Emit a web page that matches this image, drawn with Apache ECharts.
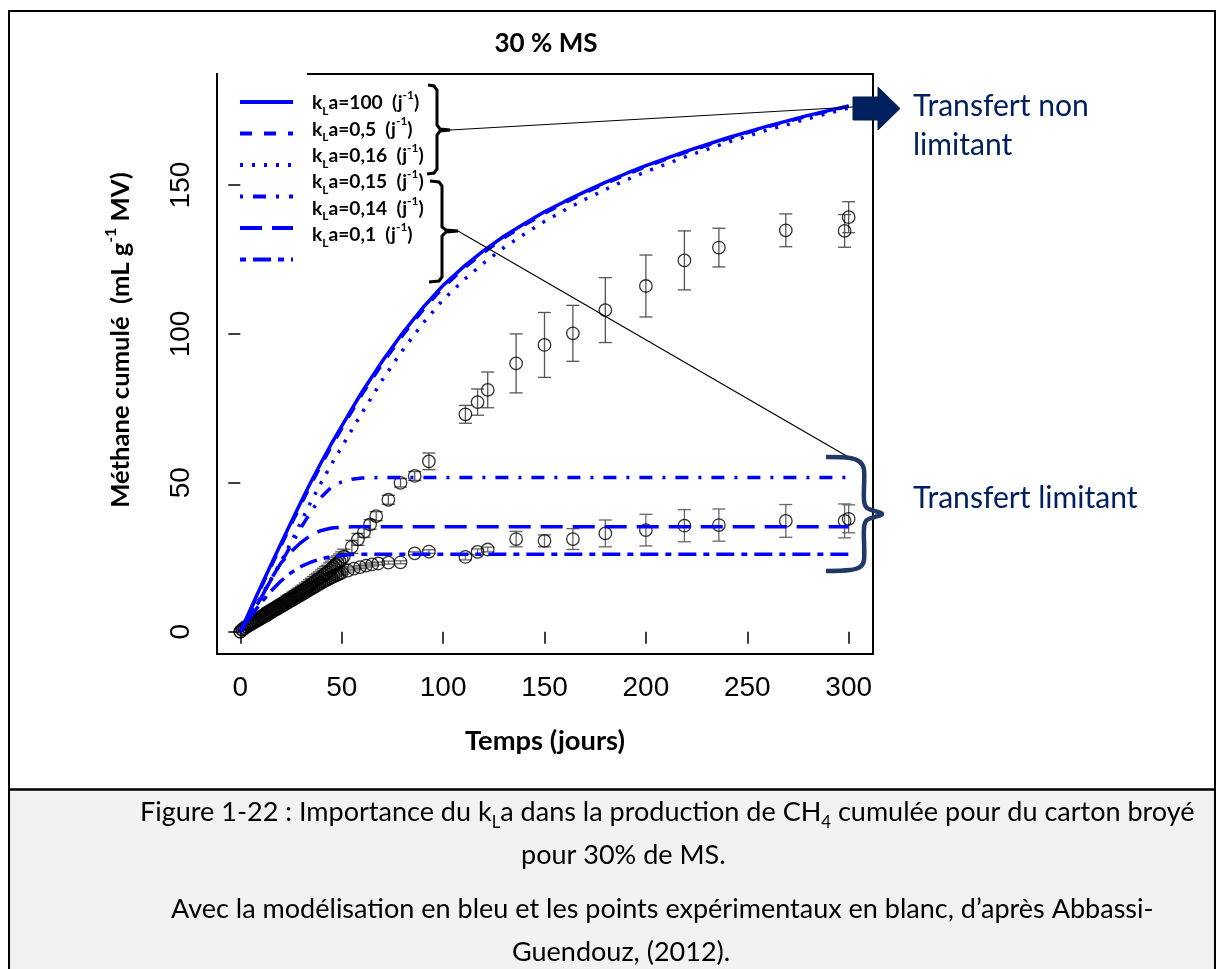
<!DOCTYPE html>
<html>
<head>
<meta charset="utf-8">
<script src="https://cdn.jsdelivr.net/npm/echarts@6/dist/echarts.min.js"></script>
<style>
html,body{margin:0;padding:0;background:#fff;}
#c{width:1223px;height:969px;}
</style>
</head>
<body>
<div id="c"></div>
<script>
// ---------------- DATA ----------------
const xTicks = [0, 50, 100, 150, 200, 250, 300];
const yTicks = [0, 50, 100, 150];

// model time axis (jours)
const T = [0,5,10,15,20,25,30,35,40,45,50,55,60,70,80,90,100,110,120,130,140,150,160,170,180,190,200,220,240,260,280,300];
// model curves (mL g-1 MV)
const kla100 = [0,7.5,15,22.3,29.5,36.7,43.7,50.5,57,63.2,69,74.8,80.5,90.8,100.3,108.8,116.3,122.5,128,132.8,137,141,144.5,147.8,150.9,153.8,156.5,161.4,165.8,169.8,173.4,176.6];
const kla05  = [0,7.2,14.5,21.7,28.8,35.9,42.9,49.7,56.2,62.4,68.2,74,79.7,90,99.5,108,115.6,121.9,127.4,132.3,136.5,140.5,144.1,147.4,150.5,153.4,156.2,161.1,165.5,169.6,173.2,176.5];
const kla016 = [0,5.5,11.5,17.5,23.5,30,37,43.8,50.2,56.3,62,67.8,73.5,84.5,94.5,103.5,111.5,118,123.8,129,133.5,137.8,141.6,145.2,148.5,151.6,154.5,159.6,164.3,168.5,172.3,175.9];
const kla015 = [0,5.5,11.3,17.2,23,29,35,40.5,45.2,48.6,50.3,51.2,51.6,51.8,51.8,51.8,51.8,51.8,51.8,51.8,51.8,51.8,51.8,51.8,51.8,51.8,51.8,51.8,51.8,51.8,51.8,51.8];
const kla014 = [0,5.5,11,17.5,23,26.8,30,32.5,34,34.8,35.1,35.2,35.2,35.2,35.2,35.2,35.2,35.2,35.2,35.2,35.2,35.2,35.2,35.2,35.2,35.2,35.2,35.2,35.2,35.2,35.2,35.2];
const kla01  = [0,5,9.5,13.5,17,19.8,21.9,23.4,24.5,25.2,25.6,25.9,26,26,26,26,26,26,26,26,26,26,26,26,26,26,26,26,26,26,26,26];
const modelLabels = ['100', '0,5', '0,16', '0,15', '0,14', '0,1'];

// experimental points, reactor A (upper)
const expA_t = [0,1,2,3,4,5,6,7,8,9,10,11,12,13,14,15,16,17,18,19,20,21,22,23,24,25,26,27,28,29,30,31,32,33,34,35,36,37,38,39,40,41,42,43,44,45,46,47,48,49,50,51,55,58,61,64,67,73,79,86,93,111,117,122,136,150,164,180,200,219,236,269,298,300];
const expA_y = [0,0.8,1.3,1.8,2.3,2.8,3.2,3.6,4.1,4.5,5.0,5.4,5.9,6.4,6.7,7.2,7.6,7.9,8.4,8.8,9.2,9.6,10.0,10.6,10.9,11.3,11.7,12.2,12.6,13.0,13.5,13.9,14.4,14.9,15.4,15.9,16.4,17.0,17.4,17.9,18.4,19.0,19.5,19.9,20.6,21.2,21.8,22.5,23.0,23.6,24.3,25.2,28.5,31.0,33.5,36.0,38.8,44.3,50.0,52.3,57.2,73.0,77.1,81.2,90.1,96.3,100.2,108.0,116.1,124.7,129.0,134.8,134.6,139.2];
const expA_e = [0,0.3,0.4,0.4,0.5,0.5,0.6,0.6,0.7,0.7,0.8,0.8,0.9,0.9,1.0,1.0,1.1,1.1,1.2,1.2,1.3,1.3,1.4,1.4,1.5,1.5,1.6,1.6,1.7,1.7,1.8,1.8,1.9,1.9,2.0,2.0,2.1,2.1,2.2,2.2,2.3,2.3,2.4,2.4,2.5,2.5,2.5,2.5,2.5,2.5,2.5,2.5,2.2,2.0,1.8,1.6,1.5,1.5,1.4,1.5,2.8,3.0,4.4,6.0,9.9,10.9,9.4,10.9,10.4,9.9,6.5,5.5,5.5,5.2];
// experimental points, reactor B (lower)
const expB_t = [0,1,2,3,4,5,6,7,8,9,10,11,12,13,14,15,16,17,18,19,20,21,22,23,24,25,26,27,28,29,30,31,32,33,34,35,36,37,38,39,40,41,42,43,44,45,46,47,48,49,50,53,56,59,62,65,68,73,79,86,93,111,117,122,136,150,164,180,200,219,236,269,298,300];
const expB_y = [0,0.6,1.1,1.6,2.0,2.4,2.8,3.2,3.6,4.0,4.4,4.8,5.2,5.5,6.0,6.4,6.8,7.3,7.6,8.0,8.4,8.8,9.2,9.7,10.0,10.4,10.8,11.2,11.6,12.1,12.4,12.8,13.2,13.6,14.0,14.5,14.8,15.2,15.6,16.1,16.4,16.8,17.2,17.5,17.9,18.2,18.6,18.9,19.2,19.5,19.8,20.5,21.2,21.7,22.2,22.6,22.9,23.2,23.3,26.3,26.9,25.1,26.8,27.6,31.1,30.5,31.1,33.0,34.1,35.6,35.8,37.2,37.2,37.9];
const expB_e = [0,0.2,0.2,0.3,0.3,0.3,0.3,0.3,0.4,0.4,0.4,0.4,0.4,0.4,0.4,0.4,0.4,0.4,0.4,0.4,0.4,0.4,0.4,0.4,0.4,0.4,0.4,0.4,0.4,0.4,0.4,0.4,0.4,0.4,0.4,0.4,0.4,0.4,0.4,0.4,0.4,0.4,0.4,0.4,0.4,0.4,0.4,0.4,0.4,0.4,0.5,0.5,0.5,0.5,0.5,0.5,0.5,0.5,0.5,0.5,0.6,1.0,1.0,0.8,2.6,2.0,3.5,4.5,5.3,5.4,5.4,5.5,5.7,4.7];

// ---------------- STYLES / LAYOUT ----------------
const BLUE = '#0000ff';
const NAVY = '#002060';
const DASHES = ['solid', [12,12], [3,9], [3,10,13,10], [22,10], [6,7,18,7]];
const TICKFONT = "'Liberation Sans',Arial,sans-serif";
const FONT = 'Lato';

const ctx = document.createElement('canvas').getContext('2d');
function measure(text, size, weight, family) {
  ctx.font = (weight || 'normal') + ' ' + size + 'px ' + family;
  return ctx.measureText(text).width;
}
function fitSize(text, weight, family, target) {
  return 100 * target / measure(text, 100, weight, family);
}

const titleSize = fitSize('30 % MS', 'bold', FONT, 103);
const titleW = measure('30 % MS', titleSize, 'bold', FONT);
const xNameSize = fitSize('Temps (jours)', 'bold', FONT, 160);
const yNameSize = fitSize('Méthane cumulé  (mL g-1 MV)', 'bold', FONT, 345);
const legSize = fitSize('kLa=100  (j-1)', 'bold', FONT, 118);
const annSize = fitSize('Transfert non', 'normal', FONT, 176);
const capSize = fitSize('Figure 1-22 : Importance du kLa dans la production de CH4 cumulée pour du carton broyé', 'normal', FONT, 1066);

function lineSeries(name, vals, dash) {
  return {
    type: 'line', name: name,
    data: T.map((t, i) => [t, vals[i]]),
    showSymbol: false, symbol: 'none',
    smooth: false,
    lineStyle: { color: BLUE, width: 3.5, type: dash, cap: 'butt', join: 'round' },
    z: 4, silent: true, animation: false
  };
}
function errRender(color) {
  return function (params, api) {
    const t = api.value(0), y = api.value(1), e = api.value(2);
    if (!(e > 0)) return null;
    const lo = api.coord([t, y - e]), hi = api.coord([t, y + e]);
    const hw = 6.5;
    const st = { stroke: color, lineWidth: 1.3 };
    return { type: 'group', children: [
      { type: 'line', shape: { x1: lo[0], y1: lo[1], x2: hi[0], y2: hi[1] }, style: st },
      { type: 'line', shape: { x1: lo[0] - hw, y1: lo[1], x2: lo[0] + hw, y2: lo[1] }, style: st },
      { type: 'line', shape: { x1: hi[0] - hw, y1: hi[1], x2: hi[0] + hw, y2: hi[1] }, style: st }
    ]};
  };
}
function scatterSeries(name, ts, ys) {
  return {
    type: 'scatter', name: name,
    data: ts.map((t, i) => [t, ys[i]]),
    symbol: 'circle', symbolSize: 12.5,
    itemStyle: { color: 'rgba(0,0,0,0)', borderColor: '#000', borderWidth: 1.3 },
    z: 3, silent: true, animation: false
  };
}

const modelVals = [kla100, kla05, kla016, kla015, kla014, kla01];
const series = [
  { type: 'custom', name: 'erreur A', data: expA_t.map((t, i) => [t, expA_y[i], expA_e[i]]), renderItem: errRender('#555'), z: 2, silent: true, animation: false },
  { type: 'custom', name: 'erreur B', data: expB_t.map((t, i) => [t, expB_y[i], expB_e[i]]), renderItem: errRender('#666'), z: 2, silent: true, animation: false },
  scatterSeries('Expérimental A', expA_t, expA_y),
  scatterSeries('Expérimental B', expB_t, expB_y)
];
modelVals.forEach((v, i) => series.push(lineSeries('kLa=' + modelLabels[i] + ' (j-1)', v, DASHES[i])));

// ---------------- GRAPHICS (frame, legend, annotations, caption) ----------------
const g = [];
g.push({ type: 'rect', shape: { x: 10, y: 790, width: 1204, height: 185 }, style: { fill: '#f2f2f2' }, z: 0 });
g.push({ type: 'rect', shape: { x: 9, y: 11, width: 1206, height: 980 }, style: { fill: null, stroke: '#000', lineWidth: 2 }, z: 100 });
g.push({ type: 'line', shape: { x1: 9, y1: 789.5, x2: 1215, y2: 789.5 }, style: { stroke: '#000', lineWidth: 2.5 }, z: 100 });
// legend background covering part of the box top
g.push({ type: 'rect', shape: { x: 218, y: 68, width: 89, height: 12 }, style: { fill: '#fff' }, z: 50 });

// legend samples + labels
const legRich = {
  s: { fontSize: legSize * 0.62, lineHeight: legSize * 0.75, fontWeight: 'bold', fontFamily: FONT, verticalAlign: 'bottom', fill: '#000' },
  p: { fontSize: legSize * 0.62, lineHeight: legSize * 0.75, fontWeight: 'bold', fontFamily: FONT, verticalAlign: 'top', fill: '#000' }
};
for (let i = 0; i < 6; i++) {
  const ly = 102 + i * 31.5;
  g.push({ type: 'line', shape: { x1: 240, y1: ly, x2: 293, y2: ly },
    style: { stroke: BLUE, lineWidth: 4, lineDash: DASHES[i] === 'solid' ? null : DASHES[i], lineCap: 'butt' }, z: 60 });
  g.push({ type: 'text', x: 312, y: 103 + i * 26.4, z: 60,
    style: { text: 'k{s|L}a=' + modelLabels[i] + '  (j{p|-1})', fontSize: legSize, lineHeight: legSize * 1.45, fontWeight: 'bold', fontFamily: FONT,
      fill: '#000', align: 'left', verticalAlign: 'middle', rich: legRich } });
}

// black braces and pointer lines
g.push({ type: 'polyline', z: 70, shape: { points: [[428,85],[434,86],[437,90],[437,125],[440,129],[450,130],[440,131],[437,135],[437,169],[434,173],[427,174]] },
  style: { stroke: '#000', lineWidth: 3, fill: null } });
g.push({ type: 'polyline', z: 70, shape: { points: [[430,181],[439,182],[442,186],[442,227],[446,230],[458,231],[446,232],[442,236],[442,277],[439,281],[429,282]] },
  style: { stroke: '#000', lineWidth: 3, fill: null } });
g.push({ type: 'line', z: 70, shape: { x1: 450, y1: 130, x2: 853, y2: 107 }, style: { stroke: '#000', lineWidth: 1.2 } });
g.push({ type: 'line', z: 70, shape: { x1: 458, y1: 231, x2: 850, y2: 458 }, style: { stroke: '#000', lineWidth: 1.2 } });

// navy brace
g.push({ type: 'polyline', z: 70, shape: { smooth: 0.3, points: [[826,457],[850,458],[860,462],[864,470],[864,500],[867,508],[882,514],[867,520],[864,528],[864,560],[860,567],[850,570],[826,571]] },
  style: { stroke: '#1f3864', lineWidth: 4.5, fill: null } });
// navy block arrow
g.push({ type: 'polygon', z: 70, shape: { points: [[853,97],[878,97],[878,87],[900,108.5],[878,130],[878,120],[853,120]] },
  style: { fill: NAVY, stroke: '#0a1a40', lineWidth: 1 } });

g.push({ type: 'text', x: 913, y: 106, z: 70, style: { text: 'Transfert non', fontSize: annSize, fontFamily: FONT, fill: NAVY, align: 'left', verticalAlign: 'middle' } });
g.push({ type: 'text', x: 913, y: 145, z: 70, style: { text: 'limitant', fontSize: annSize, fontFamily: FONT, fill: NAVY, align: 'left', verticalAlign: 'middle' } });
g.push({ type: 'text', x: 913, y: 498, z: 70, style: { text: 'Transfert limitant', fontSize: annSize, fontFamily: FONT, fill: NAVY, align: 'left', verticalAlign: 'middle' } });

// caption
const capRich = { s: { fontSize: capSize * 0.62, lineHeight: capSize * 0.75, fontFamily: FONT, verticalAlign: 'bottom', fill: '#000' } };
function capText(x, y, text) {
  return { type: 'text', x: x, y: y, z: 80,
    style: { text: text, fontSize: capSize, lineHeight: capSize * 1.4, fontFamily: FONT, fill: '#000', align: 'left', verticalAlign: 'middle', rich: capRich } };
}
g.push(capText(140, 812, 'Figure 1-22 : Importance du k{s|L}a dans la production de CH{s|4} cumulée pour du carton broyé'));
g.push(capText(521, 855, 'pour 30% de MS.'));
g.push(capText(171, 909, 'Avec la modélisation en bleu et les points expérimentaux en blanc, d’après Abbassi-'));
g.push(capText(512, 952, 'Guendouz, (2012).'));

// ---------------- CHART ----------------
const chart = echarts.init(document.getElementById('c'), null, { renderer: 'canvas' });
chart.setOption({
  backgroundColor: '#fff',
  animation: false,
  title: {
    text: '30 % MS',
    left: 541 - titleW / 2, top: 42 - titleSize * 0.62,
    textStyle: { fontFamily: FONT, fontWeight: 'bold', fontSize: titleSize, color: '#000' }
  },
  grid: {
    left: 217, top: 74, width: 656, height: 580,
    show: true, borderColor: '#000', borderWidth: 2, backgroundColor: 'transparent',
    containLabel: false, outerBoundsMode: 'none'
  },
  xAxis: {
    type: 'value', min: -11.5, max: 312,
    axisLine: { show: false },
    axisTick: { show: true, length: 12, customValues: xTicks, lineStyle: { color: '#000', width: 1.5 } },
    axisLabel: { customValues: xTicks, fontFamily: TICKFONT, fontSize: 28, color: '#000', margin: 20 },
    splitLine: { show: false },
    name: 'Temps (jours)', nameLocation: 'middle', nameGap: 74,
    nameTextStyle: { fontFamily: FONT, fontWeight: 'bold', fontSize: xNameSize, color: '#000' }
  },
  yAxis: {
    type: 'value', min: -7.5, max: 187.3,
    axisLine: { show: false },
    axisTick: { show: true, length: 12, customValues: yTicks, lineStyle: { color: '#000', width: 1.5 } },
    axisLabel: { customValues: yTicks, rotate: 90, fontFamily: TICKFONT, fontSize: 28, color: '#000', margin: 22 },
    splitLine: { show: false },
    name: 'Méthane cumulé  (mL g{p|-1} MV)', nameLocation: 'middle', nameGap: 78, nameRotate: 90,
    nameTextStyle: { fontFamily: FONT, fontWeight: 'bold', fontSize: yNameSize, lineHeight: yNameSize * 1.4, color: '#000', padding: [0, 0, 0, 48],
      rich: { p: { fontFamily: FONT, fontWeight: 'bold', fontSize: yNameSize * 0.62, lineHeight: yNameSize * 0.75, verticalAlign: 'top', color: '#000' } } }
  },
  graphic: { elements: g },
  series: series
});
</script>
</body>
</html>
